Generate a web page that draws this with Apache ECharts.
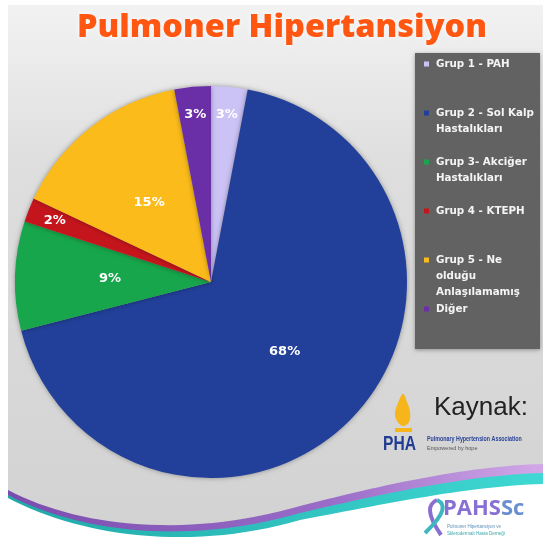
<!DOCTYPE html>
<html>
  <head>
    <meta charset="utf-8" />
    <title>Pulmoner Hipertansiyon</title>
    <style type="text/css">
      html,
      body {
        width: 100%;
        height: 100%;
        margin: 0px;
        background: #ffffff;
      }

      #chart {
        width: 543px;
        height: 545px;
      }
    </style>
    <script type="text/javascript" src="https://cdn.jsdelivr.net/npm/echarts@6/dist/echarts.min.js"></script>
  </head>

  <body>
    <div id="chart"></div>
    <script>
      // veriler
      const categories = [
        "Grup 1 - PAH",
        "Grup 2 - Sol Kalp Hastalıkları",
        "Grup 3- Akciğer Hastalıkları",
        "Grup 4 - KTEPH",
        "Grup 5 - Ne olduğu Anlaşılamamış",
        "Diğer",
      ];
      const legendLabels = [
        "Grup 1 - PAH",
        "Grup 2 - Sol Kalp\nHastalıkları",
        "Grup 3- Akciğer\nHastalıkları",
        "Grup 4 - KTEPH",
        "Grup 5 - Ne\nolduğu\nAnlaşılamamış",
        "Diğer",
      ];
      const values = [3, 68, 9, 2, 15, 3];
      const colors = ["#cbc3f6", "#22409a", "#17a64b", "#c5151c", "#fbbb1a", "#6a2fa7"];

      const pieData = categories.map((name, i) => ({
        name: name,
        value: values[i],
        itemStyle: { color: colors[i] },
      }));

      const labelFont = {
        color: "#ffffff",
        fontFamily: "DejaVu Sans",
        fontWeight: "bold",
        fontSize: 13,
      };

      // küçük dilimlerin etiketleri dış kenara yakın duruyor
      const outerLabelData = categories.map((name, i) => ({
        name: name,
        value: values[i],
        label: { show: values[i] < 5 },
      }));

      // lejant: her öğe kendi satırında, eşit aralıklı
      const legends = categories.map((name, i) => {
        const lines = legendLabels[i].split("\n").length;
        const h = lines * 16;
        return {
          orient: "vertical",
          left: 424,
          top: 56 + i * 49,
          padding: 0,
          data: [name],
          itemWidth: 5,
          itemHeight: h,
          itemGap: 0,
          icon: "path://M0,5.5h5v5h-5z M0,0L0,0 M0," + h + "L0," + h,
          selectedMode: false,
          formatter: () => legendLabels[i],
          textStyle: {
            color: "#f4f4f4",
            fontFamily: "DejaVu Sans",
            fontWeight: "bold",
            fontSize: 10.3,
            lineHeight: 16,
            padding: [0, 0, 0, 2],
          },
        };
      });

      // süs şeritleri için kübik bezier eğrisinden nokta listesi
      function curve(p0, p1, p2, p3, n) {
        const pts = [];
        for (let k = 0; k <= n; k++) {
          const t = k / n, u = 1 - t;
          pts.push([
            u * u * u * p0[0] + 3 * u * u * t * p1[0] + 3 * u * t * t * p2[0] + t * t * t * p3[0],
            u * u * u * p0[1] + 3 * u * u * t * p1[1] + 3 * u * t * t * p2[1] + t * t * t * p3[1],
          ]);
        }
        return pts;
      }
      function band(dy1, dy2) {
        // dy1: sol kaydırma, dy2: sağ kaydırma
        const m = (dy1 + dy2) / 2;
        const a = curve([8, 490 + dy1], [80, 528 + dy1], [190, 538 + m], [300, 506 + m], 30);
        const b = curve([300, 506 + m], [390, 483 + dy2], [470, 466 + dy2], [543, 464 + dy2], 30);
        return a.concat(b.slice(1)).concat([[543, 545], [8, 545]]);
      }

      const myChart = echarts.init(document.getElementById("chart"), null, {
        renderer: "canvas",
      });

      const option = {
        animation: false,
        title: {
          text: "Pulmoner Hipertansiyon",
          left: 72,
          top: 6,
          textStyle: {
            color: "#ff5712",
            fontFamily: "Open Sans",
            fontWeight: 800,
            fontSize: 32.5,
            textShadowColor: "rgba(255,255,255,0.9)",
            textShadowBlur: 4,
          },
        },
        legend: legends,
        graphic: [
          {
            type: "rect",
            z: -10,
            shape: { x: 8, y: 5, width: 535, height: 540 },
            style: {
              fill: new echarts.graphic.LinearGradient(0, 0, 0, 1, [
                { offset: 0, color: "#f2f2f2" },
                { offset: 0.3, color: "#dedede" },
                { offset: 1, color: "#d2d2d2" },
              ]),
            },
          },
          {
            type: "polygon",
            z: -9,
            shape: { points: band(0, 0) },
            style: {
              fill: new echarts.graphic.LinearGradient(0, 0, 1, 0, [
                { offset: 0, color: "#7a4cae" },
                { offset: 0.6, color: "#9a6cc8" },
                { offset: 1, color: "#d2a8e8" },
              ]),
            },
          },
          {
            type: "polygon",
            z: -8,
            shape: { points: band(5, 9) },
            style: {
              fill: new echarts.graphic.LinearGradient(0, 0, 1, 0, [
                { offset: 0, color: "#1fa9a8" },
                { offset: 1, color: "#3fd8d2" },
              ]),
            },
          },
          {
            type: "polygon",
            z: -7,
            shape: { points: band(8, 20) },
            style: { fill: "#ffffff" },
          },
          {
            type: "rect",
            z: -6,
            shape: { x: 415, y: 53, width: 125, height: 296 },
            style: {
              fill: "#626262",
              shadowColor: "rgba(0,0,0,0.35)",
              shadowBlur: 4,
              shadowOffsetY: 1,
            },
          },
          {
            type: "text",
            z: -5,
            x: 434,
            y: 395,
            style: {
              text: "Kaynak:",
              fill: "#222222",
              font: "26px 'Liberation Sans'",
            },
          },
          {
            type: "polygon",
            z: -5,
            shape: {
              points: [[403, 394], [398, 403], [395, 413], [397, 421], [403, 426], [409, 422], [410, 412], [407, 402]],
              smooth: 0.4,
            },
            style: { fill: "#f6b51b" },
          },
          {
            type: "rect",
            z: -5,
            shape: { x: 395, y: 428, width: 17, height: 4 },
            style: { fill: "#f6b51b" },
          },
          {
            type: "text",
            z: -5,
            x: 383,
            y: 434,
            scaleX: 0.78,
            style: {
              text: "PHA",
              fill: "#203c93",
              font: "bold 20px 'Liberation Sans'",
            },
          },
          {
            type: "text",
            z: -5,
            x: 427,
            y: 436,
            scaleX: 0.82,
            style: {
              text: "Pulmonary Hypertension Association",
              fill: "#2a4398",
              font: "bold 6.5px 'Liberation Sans'",
            },
          },
          {
            type: "text",
            z: -5,
            x: 427,
            y: 445,
            style: {
              text: "Empowered by hope",
              fill: "#555555",
              font: "5.5px 'Liberation Sans'",
            },
          },
          {
            type: "bezierCurve",
            z: -5,
            shape: { x1: 437, y1: 500, cpx1: 428, cpy1: 504, cpx2: 426, cpy2: 513, x2: 441, y2: 535 },
            style: { fill: "none", stroke: "#8a6fd0", lineWidth: 4 },
          },
          {
            type: "bezierCurve",
            z: -5,
            shape: { x1: 437, y1: 500, cpx1: 446, cpy1: 504, cpx2: 446, cpy2: 513, x2: 425, y2: 533 },
            style: { fill: "none", stroke: "#3fb7c0", lineWidth: 4 },
          },
          {
            type: "text",
            z: -5,
            x: 443,
            y: 498,
            style: {
              text: "{a|PAHS}{b|Sc}",
              rich: {
                a: { fill: "#8670d4", font: "bold 22px 'Open Sans'" },
                b: { fill: "#6a8fd0", font: "bold 22px 'Open Sans'" },
              },
            },
          },
          {
            type: "text",
            z: -5,
            x: 447,
            y: 524,
            style: {
              text: "Pulmoner Hipertansiyon ve",
              fill: "#5a8fb8",
              font: "4.5px 'Liberation Sans'",
            },
          },
          {
            type: "text",
            z: -5,
            x: 447,
            y: 531,
            style: {
              text: "Sklerodermalı Hasta Derneği",
              fill: "#3aa6a8",
              font: "4.5px 'Liberation Sans'",
            },
          },
        ],
        series: [
          {
            name: "Pulmoner Hipertansiyon",
            type: "pie",
            center: [211, 282],
            radius: 196,
            startAngle: 90,
            clockwise: true,
            data: pieData,
            itemStyle: {
              shadowColor: "rgba(0,0,0,0.35)",
              shadowBlur: 5,
            },
            label: {
              show: true,
              position: "inside",
              formatter: (p) => (p.value < 5 ? "" : p.value + "%"),
              ...labelFont,
            },
            labelLine: { show: false },
            emphasis: { disabled: true },
          },
          {
            type: "pie",
            center: [211, 282],
            radius: [0, 330],
            startAngle: 90,
            clockwise: true,
            silent: true,
            legendHoverLink: false,
            data: outerLabelData,
            itemStyle: { color: "rgba(0,0,0,0)" },
            label: {
              position: "inside",
              formatter: "{c}%",
              ...labelFont,
            },
            labelLine: { show: false },
            emphasis: { disabled: true },
          },
        ],
      };

      myChart.setOption(option);
    </script>
  </body>
</html>
